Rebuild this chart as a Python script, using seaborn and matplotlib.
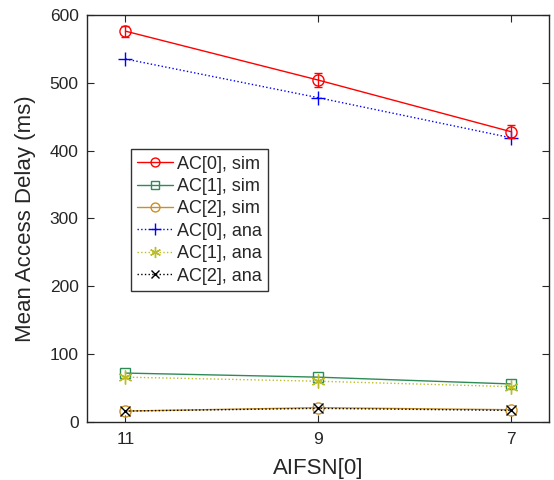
import matplotlib
matplotlib.use("Agg")
import matplotlib.pyplot as plt
import seaborn as sns
import pandas as pd

aifsn = [11, 9, 7]
ac0_sim = [576, 504, 428]
ac0_sim_err = [8, 10, 10]
ac1_sim = [72, 66, 56]
ac2_sim = [16, 21, 18]
ac0_ana = [535, 478, 419]
ac1_ana = [66, 60, 52]
ac2_ana = [16, 20, 17]

sns.set_style("ticks")
plt.rcParams['font.family'] = ['Liberation Sans', 'DejaVu Sans']

fig = plt.figure(figsize=(5.54, 4.8), dpi=100)
ax = fig.add_axes([0.157, 0.121, 0.834, 0.848])

asterisk = (6, 2, 0)
series = [
    ("AC[0], sim", ac0_sim, "red", "o", "-", 8),
    ("AC[1], sim", ac1_sim, "#2e8b57", "s", "-", 7),
    ("AC[2], sim", ac2_sim, "#c8902a", "o", "-", 8),
    ("AC[0], ana", ac0_ana, "blue", "+", ":", 10),
    ("AC[1], ana", ac1_ana, "#bcbd22", asterisk, ":", 10),
    ("AC[2], ana", ac2_ana, "black", "x", ":", 7),
]

for label, vals, color, marker, ls, ms in series:
    df = pd.DataFrame({"x": aifsn, "y": vals})
    filled = marker in ("+", "x", asterisk)
    sns.lineplot(data=df, x="x", y="y", ax=ax, label=label, color=color,
                 marker=marker, linestyle=ls, linewidth=1, markersize=ms,
                 markerfacecolor=color if filled else "none",
                 markeredgecolor=color, markeredgewidth=1, sort=False)

ax.errorbar(aifsn, ac0_sim, yerr=ac0_sim_err, fmt="none", ecolor="red",
            elinewidth=1, capsize=3)

ax.set_xlim(11.4, 6.6)
ax.set_ylim(0, 600)
ax.set_xticks(aifsn)
ax.set_yticks(range(0, 601, 100))
ax.tick_params(direction="in", top=True, right=True, labelsize=12.5, length=5)
ax.tick_params(axis="x", pad=7)
ax.tick_params(axis="y", pad=6)
for s in ax.spines.values():
    s.set_linewidth(1)
ax.set_xlabel("AIFSN[0]", fontsize=16, labelpad=8)
ax.set_ylabel("Mean Access Delay (ms)", fontsize=16, labelpad=10)

leg = ax.legend(loc="upper left", bbox_to_anchor=(0.095, 0.67), fontsize=13,
                frameon=True, fancybox=False, edgecolor="black",
                handlelength=2.0, borderpad=0.35, labelspacing=0.3,
                handletextpad=0.2, markerscale=0.8, borderaxespad=0)
leg.get_frame().set_linewidth(1)

fig.savefig("out.png", dpi=100)
